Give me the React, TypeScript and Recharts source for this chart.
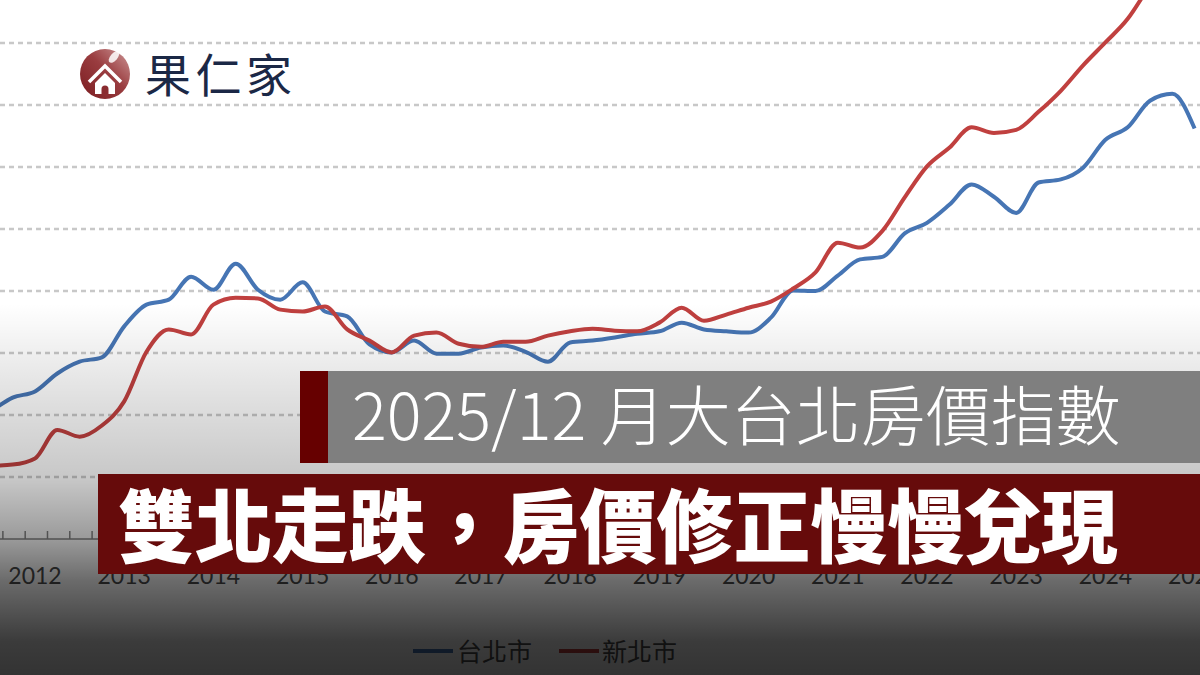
// 大台北房價指數 thumbnail: two index lines (台北市 / 新北市) under a dark fade, with title banners
import * as React from 'react';
import { LineChart, Line, XAxis, YAxis, CartesianGrid, Legend } from 'recharts';

// quarterly periods, 2011Q3 .. 2025Q1
const periods = [
  '2011Q3', '2011Q4',
  '2012Q1', '2012Q2', '2012Q3', '2012Q4',
  '2013Q1', '2013Q2', '2013Q3', '2013Q4',
  '2014Q1', '2014Q2', '2014Q3', '2014Q4',
  '2015Q1', '2015Q2', '2015Q3', '2015Q4',
  '2016Q1', '2016Q2', '2016Q3', '2016Q4',
  '2017Q1', '2017Q2', '2017Q3', '2017Q4',
  '2018Q1', '2018Q2', '2018Q3', '2018Q4',
  '2019Q1', '2019Q2', '2019Q3', '2019Q4',
  '2020Q1', '2020Q2', '2020Q3', '2020Q4',
  '2021Q1', '2021Q2', '2021Q3', '2021Q4',
  '2022Q1', '2022Q2', '2022Q3', '2022Q4',
  '2023Q1', '2023Q2', '2023Q3', '2023Q4',
  '2024Q1', '2024Q2', '2024Q3', '2024Q4',
  '2025Q1',
];

const taipei = [
  100.5, 102.8, 103.8, 106.7, 108.6, 109.3, 114.3, 117.8, 118.6, 122.3,
  120.2, 124.4, 120.2, 118.6, 121.4, 116.7, 115.9, 111.4, 110.1, 112.0,
  109.9, 109.9, 110.9, 111.2, 110.2, 108.6, 111.7, 112.0, 112.5, 113.1,
  113.5, 114.9, 113.8, 113.5, 113.3, 115.7, 120.1, 120.0, 122.5, 125.1,
  125.5, 129.3, 131.0, 133.9, 137.2, 135.2, 132.6, 137.5, 138.0, 139.9,
  144.4, 146.4, 150.7, 151.8, 146.2,
];

const newTaipei = [
  91.8, 92.0, 93.0, 97.6, 96.5, 98.3, 102.2, 110.2, 113.8, 113.0,
  117.8, 118.9, 118.8, 117.0, 116.7, 117.5, 113.8, 112.0, 110.1, 112.8,
  113.3, 111.5, 111.0, 111.8, 111.8, 112.8, 113.5, 113.9, 113.6, 113.5,
  114.9, 117.3, 115.2, 116.2, 117.3, 118.3, 120.4, 123.0, 127.8, 127.0,
  129.7, 135.1, 140.1, 143.1, 146.4, 145.5, 146.0, 148.9, 152.3, 156.4,
  160.1, 163.9, 169.4, 175.1, 180.7,
];

const yearLabels = [2012, 2013, 2014, 2015, 2016, 2017, 2018, 2019, 2020, 2021, 2022, 2023, 2024, 2025];
const gridValues = [90, 100, 110, 120, 130, 140, 150, 160];

const BLUE = '#4675b4';
const RED = '#c0403f';

const rows = periods.map((p, i) => ({
  t: Number(p.slice(0, 4)) + (Number(p.slice(5)) - 1) / 4,
  taipei: taipei[i],
  newTaipei: newTaipei[i],
}));

const T_MIN = 2011.6076;
const T_MAX = 2025.0605;

// quarter tick marks along the axis
const minorTicks: number[] = [];
for (let t = 2011.64; t < T_MAX; t += 0.25) minorTicks.push(Number(t.toFixed(3)));
const axisTicks = [...minorTicks, ...yearLabels].sort((a, b) => a - b);

function renderTick(props: any) {
  const { x, y, payload } = props;
  if (yearLabels.includes(payload.value)) {
    return (
      <text x={x} y={y + 45} textAnchor="middle" fill="#4a4a4a" fontSize={23} fontFamily="Lato">
        {payload.value}
      </text>
    );
  }
  return <line x1={x} x2={x} y1={y - 8} y2={y} stroke="#858585" strokeWidth={1.5} />;
}

function LegendBox() {
  const txt: React.CSSProperties = {
    position: 'absolute',
    top: 10,
    fontSize: 25,
    lineHeight: '30px',
    color: '#4a4a4a',
    fontFamily: '"Noto Sans CJK TC"',
  };
  const bar: React.CSSProperties = { position: 'absolute', top: 24, width: 40, height: 4 };
  return (
    <div style={{ position: 'relative', width: 1200, height: 50 }}>
      <div style={{ ...bar, left: 413, background: BLUE }} />
      <div style={{ ...txt, left: 457 }}>台北市</div>
      <div style={{ ...bar, left: 559, background: RED }} />
      <div style={{ ...txt, left: 602 }}>新北市</div>
    </div>
  );
}

export default function App() {
  return (
    <div
      style={{
        position: 'fixed',
        left: 0,
        top: 0,
        width: 1200,
        height: 675,
        overflow: 'hidden',
        background: '#fff',
      }}
    >
      <LineChart width={1200} height={675} data={rows} margin={{ top: 0, right: 0, left: 0, bottom: 0 }}>
        <CartesianGrid
          vertical={false}
          horizontalValues={gridValues}
          stroke="#c8c8c8"
          strokeDasharray="5 4"
          strokeWidth={2.5}
        />
        <XAxis
          type="number"
          dataKey="t"
          domain={[T_MIN, T_MAX]}
          allowDataOverflow
          ticks={axisTicks}
          interval={0}
          height={86}
          tickSize={0}
          tickMargin={0}
          tickLine={false}
          axisLine={{ stroke: '#858585', strokeWidth: 1.5 }}
          tick={renderTick}
        />
        <YAxis hide domain={[80, 166.94]} allowDataOverflow ticks={gridValues} />
        <Legend verticalAlign="bottom" content={() => <LegendBox />} />
        <Line
          type="monotone"
          dataKey="taipei"
          name="台北市"
          stroke={BLUE}
          strokeWidth={4}
          dot={false}
          isAnimationActive={false}
        />
        <Line
          type="monotone"
          dataKey="newTaipei"
          name="新北市"
          stroke={RED}
          strokeWidth={4}
          dot={false}
          isAnimationActive={false}
        />
      </LineChart>

      {/* dark fade over the lower part */}
      <div
        style={{
          position: 'absolute',
          left: 0,
          top: 0,
          width: 1200,
          height: 675,
          pointerEvents: 'none',
          background:
            'linear-gradient(to bottom, rgba(0,0,0,0) 0%, rgba(0,0,0,0) 45%, rgba(0,0,0,0.12) 59%, rgba(0,0,0,0.22) 71%, rgba(0,0,0,0.4) 80%, rgba(0,0,0,0.58) 86%, rgba(0,0,0,0.77) 95%, rgba(0,0,0,0.8) 100%)',
        }}
      />

      {/* logo + title banners */}
      <svg
        width={1200}
        height={675}
        style={{ position: 'absolute', left: 0, top: 0, pointerEvents: 'none' }}
        fontFamily='"Noto Sans CJK TC", "Noto Sans CJK SC", sans-serif'
      >
        <defs>
          <linearGradient id="logoGrad" x1="0" y1="1" x2="1" y2="0">
            <stop offset="0%" stopColor="#7a1c20" />
            <stop offset="55%" stopColor="#9a3d40" />
            <stop offset="100%" stopColor="#cf9a9a" />
          </linearGradient>
        </defs>
        <circle cx={105} cy={74} r={25} fill="url(#logoGrad)" />
        <ellipse cx={114} cy={57} rx={3.6} ry={7} transform="rotate(40 114 57)" fill="#fff" opacity={0.85} />
        <polyline points="89,82 105,66 121,82" fill="none" stroke="#fff" strokeWidth={3.5} strokeLinejoin="miter" />
        <polygon points="95,83 105,73 115,83 115,94 95,94" fill="#fff" />
        <path d="M101.5,94 L101.5,89 A3.5,3.5 0 0 1 108.5,89 L108.5,94 Z" fill="#8a2c30" />
        <text x={145} y={92} fontSize={46} letterSpacing={4.5} fill="#1b2846">
          果仁家
        </text>

        <rect x={300} y={371} width={28} height={92} fill="#660000" />
        <rect x={328} y={371} width={872} height={92} fill="#7f7f7f" />
        <text x={352} y={440} fontSize={65} fontWeight={300} fill="#fff">
          2025/12 月大台北房價指數
        </text>

        <rect x={98} y={474} width={1102} height={100} fill="#660b0b" />
        <text
          x={118}
          y={556}
          fontSize={80}
          fontWeight={900}
          fill="#fff"
          textLength={1000}
          lengthAdjust="spacingAndGlyphs"
        >
          雙北走跌，房價修正慢慢兌現
        </text>
      </svg>
    </div>
  );
}
